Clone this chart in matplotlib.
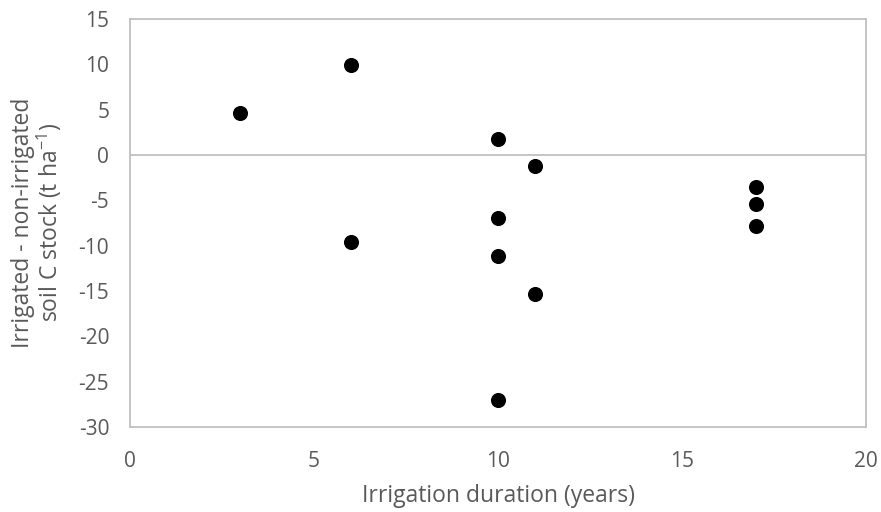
import matplotlib.pyplot as plt

# data
duration = [3, 6, 6, 10, 10, 10, 10, 11, 11, 17, 17, 17]
delta_c = [4.6, 9.9, -9.6, 1.8, -6.9, -11.1, -27.0, -1.2, -15.3, -3.5, -5.4, -7.8]

x_ticks = [0, 5, 10, 15, 20]
y_ticks = [-30, -25, -20, -15, -10, -5, 0, 5, 10, 15]

grey = '#595959'
frame = '#BFBFBF'

plt.rcParams['font.family'] = ['Open Sans', 'DejaVu Sans']
plt.rcParams['axes.unicode_minus'] = False
plt.rcParams['mathtext.default'] = 'regular'

fig = plt.figure(figsize=(8.81, 5.12), dpi=100)
ax = fig.add_axes([130 / 881, 1 - 427 / 512, (866 - 130) / 881, (427 - 19) / 512])

ax.scatter(duration, delta_c, s=118, color='black', zorder=3, linewidths=0)
ax.axhline(0, color=frame, linewidth=1.3, zorder=1)

ax.set_xlim(0, 20)
ax.set_ylim(-30, 15)
ax.set_xticks(x_ticks)
ax.set_yticks(y_ticks)
ax.tick_params(length=0, labelsize=15, colors=grey)
ax.tick_params(axis='y', pad=15)
ax.tick_params(axis='x', pad=17)
for side in ax.spines.values():
    side.set_color(frame)
    side.set_linewidth(1.3)

ax.set_xlabel('Irrigation duration (years)', fontsize=16.5, color=grey)
ax.xaxis.set_label_coords(0.5, -0.14)
ax.set_ylabel('Irrigated - non-irrigated\nsoil C stock (t ha$^{-1}$)', fontsize=16.5,
              color=grey, linespacing=1.0)
ax.yaxis.set_label_coords(-0.09, 0.5)

fig.savefig('out.png', dpi=100)
